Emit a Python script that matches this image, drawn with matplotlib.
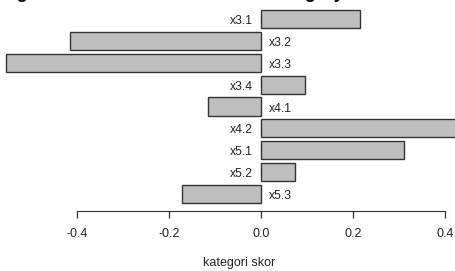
import matplotlib
matplotlib.use("Agg")
import matplotlib.pyplot as plt
import numpy as np

plt.rcParams["font.family"] = ["Liberation Sans", "DejaVu Sans"]

# kategori dan skornya
categories = ["x3.1", "x3.2", "x3.3", "x3.4", "x4.1", "x4.2", "x5.1", "x5.2", "x5.3"]
scores = [0.215, -0.415, -0.554, 0.096, -0.115, 0.47, 0.311, 0.074, -0.172]
xticks = [-0.4, -0.2, 0.0, 0.2, 0.4]
xticklabels = ["-0.4", "-0.2", "0.0", "0.2", "0.4"]

W, H = 456, 271
fig = plt.figure(figsize=(W / 100, H / 100), dpi=100)

# axes: dari atas gambar sampai garis sumbu (px 211)
ax = fig.add_axes([0, 1 - 211 / H, 1, 211 / H])
ax.set_facecolor("none")

pitch = 21.85
y = np.arange(len(categories))
ax.barh(y, scores, height=1 / 1.2, color="#bebebe", edgecolor="#333333",
        linewidth=1.0)

ax.set_xlim(-261 / 460, 195 / 460)
ax.set_ylim((211 - 19.1) / pitch, -19.1 / pitch)

for yi, name, val in zip(y, categories, scores):
    if val >= 0:
        ax.annotate(name, (0, yi), xytext=(-6, -1.5), textcoords="offset points",
                    ha="right", va="center", fontsize=8.7, color="#222222")
    else:
        ax.annotate(name, (0, yi), xytext=(6, -1.5), textcoords="offset points",
                    ha="left", va="center", fontsize=8.7, color="#222222")

for side in ["top", "right", "left"]:
    ax.spines[side].set_visible(False)
ax.spines["bottom"].set_bounds(-0.4, 0.4)
ax.spines["bottom"].set_color("#333333")
ax.set_yticks([])
ax.set_xticks(xticks)
ax.set_xticklabels(xticklabels)
ax.tick_params(axis="x", length=5, width=0.9, color="#333333", pad=7,
               labelsize=9, labelcolor="#222222")

fig.text(239 / W, 1 - 263 / H, "kategori skor", ha="center", va="center",
         fontsize=9, color="#222222")

# judul terpotong di bagian atas gambar, hanya ekor huruf yang terlihat
fig.text(-15 / W, 1 + 2.5 / H, "Weights of the items within each category",
         ha="left", va="baseline", fontsize=13, fontweight="bold")

fig.savefig("out.png", dpi=100)
